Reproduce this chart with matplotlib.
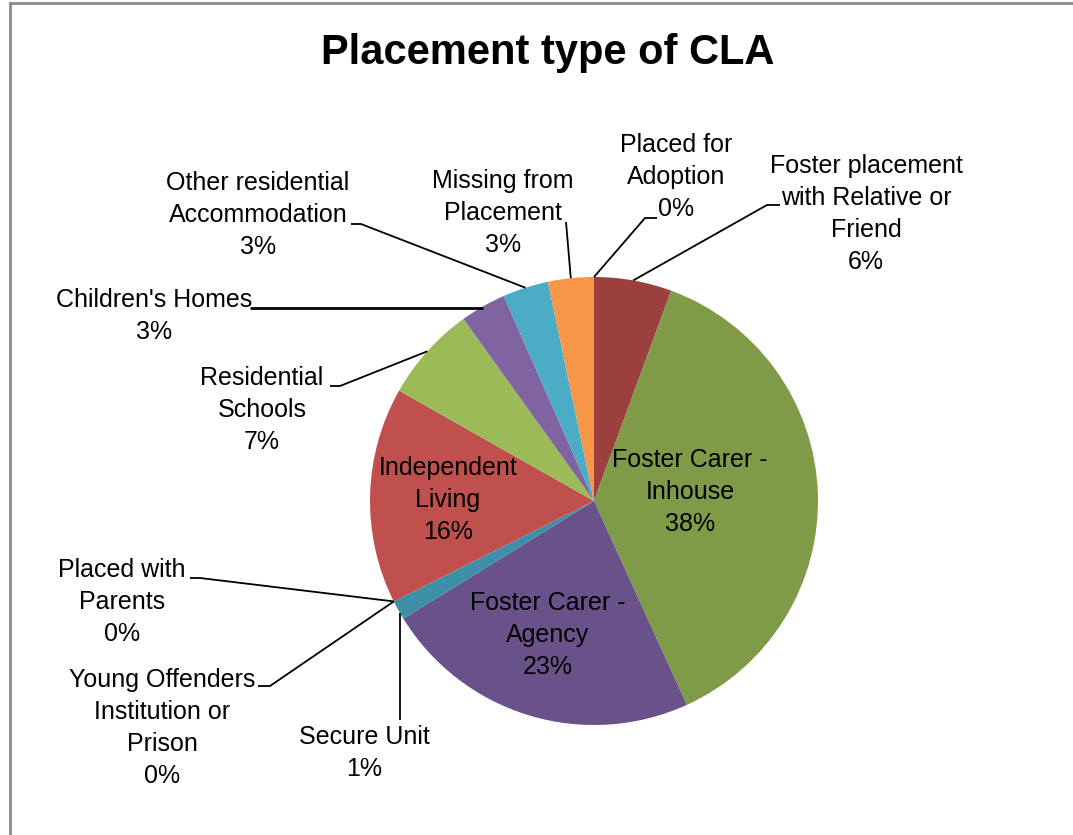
import numpy as np
import matplotlib
matplotlib.use("Agg")
import matplotlib.pyplot as plt

plt.rcParams['font.family'] = ['Liberation Sans', 'DejaVu Sans']

# data, clockwise from 12 o'clock (share of children looked after, %)
categories = ["Foster placement\nwith Relative or\nFriend",
              "Foster Carer -\nInhouse",
              "Foster Carer -\nAgency",
              "Secure Unit",
              "Young Offenders\nInstitution or\nPrison",
              "Placed with\nParents",
              "Independent\nLiving",
              "Residential\nSchools",
              "Children's Homes",
              "Other residential\nAccommodation",
              "Missing from\nPlacement",
              "Placed for\nAdoption"]
shares = [5.6, 37.6, 23.0, 1.4, 0.0, 0.0, 15.6, 6.9, 3.3, 3.3, 3.3, 0.0]
colors = ["#9C403D", "#7F9B48", "#69518A", "#3B8FA6", "#E8853A", "#4F81BD",
          "#C0504D", "#9BBB59", "#8064A2", "#4BACC6", "#F79646", "#385D8A"]

W, H = 1073, 835
cx, cy, R = 594, 501, 224

fig = plt.figure(figsize=(W / 100, H / 100), dpi=100)
ax = fig.add_axes([0, 0, 1, 1])

# y axis is flipped (pixel style), so startangle -90 is the top and
# counterclock=True runs clockwise on screen
wedges, _ = ax.pie(shares, colors=colors, startangle=-90, counterclock=True,
                   center=(cx, cy), radius=R, frame=True,
                   wedgeprops=dict(linewidth=0))
ax.set_xlim(0, W)
ax.set_ylim(H, 0)
ax.axis("off")

total = sum(shares)

# label text centre, and leader elbow points
label_pos = {0: (866, 214), 1: (690, 492), 2: (548, 635), 3: (364, 753),
             4: (162, 728), 5: (122, 602), 6: (448, 500), 7: (262, 410),
             8: (154, 316), 9: (258, 215), 10: (503, 213), 11: (676, 177)}
leaders = {0: [(767, 205), (780, 205)],
           3: None,
           4: [(270, 686), (258, 686)],
           5: [(200, 578), (190, 578)],
           7: [(340, 386), (330, 386)],
           8: [(250, 308)],
           9: [(361, 224), (351, 224)],
           10: [(566, 222)],
           11: [(645, 218), (657, 218)]}

for i, w in enumerate(wedges):
    pct = shares[i] / total * 100
    txt = categories[i] + "\n" + f"{pct:.0f}%"
    x, y = label_pos[i]
    ax.text(x, y, txt, ha="center", va="center", fontsize=18,
            linespacing=1.43, color="black")
    mid = np.deg2rad((w.theta1 + w.theta2) / 2)
    ex, ey = cx + R * np.cos(mid), cy + R * np.sin(mid)
    if i in leaders:
        lw = 1.3
        if leaders[i] is None:
            # vertical leader for the secure unit slice
            xs, ys = [ex + 2, ex + 2], [ey + 3, 720]
        else:
            pts = [(ex, ey)] + leaders[i]
            if i == 8:
                pts = [(ex, leaders[i][0][1])] + leaders[i]
                lw = 2.0
            xs = [p[0] for p in pts]
            ys = [p[1] for p in pts]
        ax.plot(xs, ys, color="black", lw=lw, solid_capstyle="butt")

ax.text(548, 53, "Placement type of CLA", ha="center", va="center",
        fontsize=30, fontweight="bold")

# chart area border (top and left edges visible)
ax.plot([10, W], [3, 3], color="#8c8c8c", lw=2, clip_on=False)
ax.plot([10, 10], [3, H], color="#8c8c8c", lw=2, clip_on=False)

fig.savefig("out.png", dpi=100, facecolor="white")
